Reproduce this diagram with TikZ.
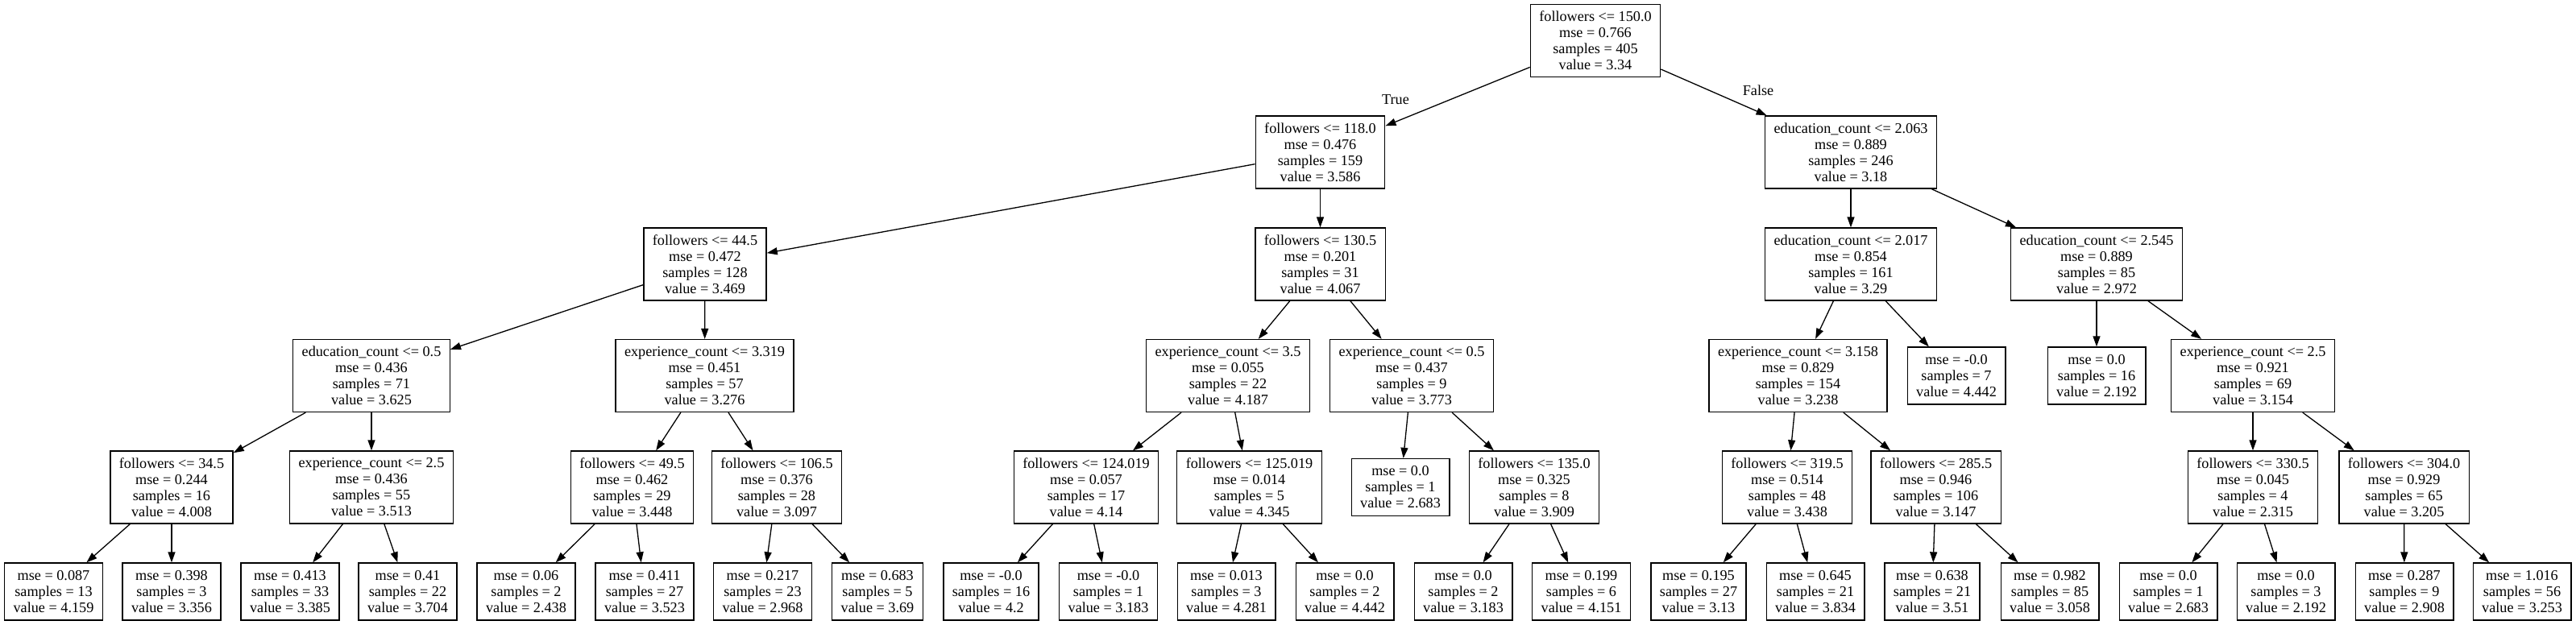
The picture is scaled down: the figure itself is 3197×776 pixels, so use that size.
\documentclass[tikz,border=0pt]{standalone}
\usepackage{fontspec}
\setmainfont{Liberation Serif}
\usetikzlibrary{arrows.meta}

\begin{document}
\begin{tikzpicture}
    [
    x=1pt, y=-1pt,
    every node/.style={font=\fontsize{18.2}{20}\selectfont},
    split/.style={rectangle,draw,line width=1.3pt,align=center,inner xsep=11pt,inner ysep=0pt,minimum height=90pt},
    leaf/.style={split,minimum height=71pt}
    ]
    \useasboundingbox (0,0) rectangle (3197,776);
    % rank 0 and 1
    \node[split] (n0) at (1980,50.5) {followers <= 150.0\\mse = 0.766\\samples = 405\\value = 3.34};
    \node[split] (n1) at (1638.5,189) {followers <= 118.0\\mse = 0.476\\samples = 159\\value = 3.586};
    \node[split] (n30) at (2297,189) {education\_count <= 2.063\\mse = 0.889\\samples = 246\\value = 3.18};
    \node (true) at (1732,124) {True};
    \node (false) at (2182,112) {False};
    % rank 2
    \node[split] (n2) at (875,328) {followers <= 44.5\\mse = 0.472\\samples = 128\\value = 3.469};
    \node[split] (n17) at (1638.5,328) {followers <= 130.5\\mse = 0.201\\samples = 31\\value = 4.067};
    \node[split] (n31) at (2297,328) {education\_count <= 2.017\\mse = 0.854\\samples = 161\\value = 3.29};
    \node[split] (n40) at (2602,328) {education\_count <= 2.545\\mse = 0.889\\samples = 85\\value = 2.972};
    % rank 3
    \node[split] (n3) at (461,466.5) {education\_count <= 0.5\\mse = 0.436\\samples = 71\\value = 3.625};
    \node[split] (n10) at (874.5,466.5) {experience\_count <= 3.319\\mse = 0.451\\samples = 57\\value = 3.276};
    \node[split] (n18) at (1524,466.5) {experience\_count <= 3.5\\mse = 0.055\\samples = 22\\value = 4.187};
    \node[split] (n25) at (1752,466.5) {experience\_count <= 0.5\\mse = 0.437\\samples = 9\\value = 3.773};
    \node[split] (n32) at (2231.5,466.5) {experience\_count <= 3.158\\mse = 0.829\\samples = 154\\value = 3.238};
    \node[leaf] (n39) at (2428,466.5) {mse = -0.0\\samples = 7\\value = 4.442};
    \node[leaf] (n41) at (2602,466.5) {mse = 0.0\\samples = 16\\value = 2.192};
    \node[split] (n42) at (2796,466.5) {experience\_count <= 2.5\\mse = 0.921\\samples = 69\\value = 3.154};
    % rank 4
    \node[split] (n4) at (213,605) {followers <= 34.5\\mse = 0.244\\samples = 16\\value = 4.008};
    \node[split] (n7) at (461,605) {experience\_count <= 2.5\\mse = 0.436\\samples = 55\\value = 3.513};
    \node[split] (n11) at (784.5,605) {followers <= 49.5\\mse = 0.462\\samples = 29\\value = 3.448};
    \node[split] (n14) at (964,605) {followers <= 106.5\\mse = 0.376\\samples = 28\\value = 3.097};
    \node[split] (n19) at (1348,605) {followers <= 124.019\\mse = 0.057\\samples = 17\\value = 4.14};
    \node[split] (n22) at (1550.5,605) {followers <= 125.019\\mse = 0.014\\samples = 5\\value = 4.345};
    \node[leaf] (n26) at (1738,605) {mse = 0.0\\samples = 1\\value = 2.683};
    \node[split] (n27) at (1904,605) {followers <= 135.0\\mse = 0.325\\samples = 8\\value = 3.909};
    \node[split] (n33) at (2218,605) {followers <= 319.5\\mse = 0.514\\samples = 48\\value = 3.438};
    \node[split] (n36) at (2402.5,605) {followers <= 285.5\\mse = 0.946\\samples = 106\\value = 3.147};
    \node[split] (n43) at (2796,605) {followers <= 330.5\\mse = 0.045\\samples = 4\\value = 2.315};
    \node[split] (n46) at (2983.5,605) {followers <= 304.0\\mse = 0.929\\samples = 65\\value = 3.205};
    % rank 5
    \node[leaf] (n5) at (66.5,734.5) {mse = 0.087\\samples = 13\\value = 4.159};
    \node[leaf] (n6) at (213,734.5) {mse = 0.398\\samples = 3\\value = 3.356};
    \node[leaf] (n8) at (360,734.5) {mse = 0.413\\samples = 33\\value = 3.385};
    \node[leaf] (n9) at (506,734.5) {mse = 0.41\\samples = 22\\value = 3.704};
    \node[leaf] (n12) at (653,734.5) {mse = 0.06\\samples = 2\\value = 2.438};
    \node[leaf] (n13) at (800,734.5) {mse = 0.411\\samples = 27\\value = 3.523};
    \node[leaf] (n15) at (946.5,734.5) {mse = 0.217\\samples = 23\\value = 2.968};
    \node[leaf] (n16) at (1089,734.5) {mse = 0.683\\samples = 5\\value = 3.69};
    \node[leaf] (n20) at (1230,734.5) {mse = -0.0\\samples = 16\\value = 4.2};
    \node[leaf] (n21) at (1375.5,734.5) {mse = -0.0\\samples = 1\\value = 3.183};
    \node[leaf] (n23) at (1522,734.5) {mse = 0.013\\samples = 3\\value = 4.281};
    \node[leaf] (n24) at (1669,734.5) {mse = 0.0\\samples = 2\\value = 4.442};
    \node[leaf] (n28) at (1816,734.5) {mse = 0.0\\samples = 2\\value = 3.183};
    \node[leaf] (n29) at (1962.5,734.5) {mse = 0.199\\samples = 6\\value = 4.151};
    \node[leaf] (n34) at (2108,734.5) {mse = 0.195\\samples = 27\\value = 3.13};
    \node[leaf] (n35) at (2253,734.5) {mse = 0.645\\samples = 21\\value = 3.834};
    \node[leaf] (n37) at (2398,734.5) {mse = 0.638\\samples = 21\\value = 3.51};
    \node[leaf] (n38) at (2544,734.5) {mse = 0.982\\samples = 85\\value = 3.058};
    \node[leaf] (n44) at (2691,734.5) {mse = 0.0\\samples = 1\\value = 2.683};
    \node[leaf] (n45) at (2837,734.5) {mse = 0.0\\samples = 3\\value = 2.192};
    \node[leaf] (n47) at (2984,734.5) {mse = 0.287\\samples = 9\\value = 2.908};
    \node[leaf] (n48) at (3130,734.5) {mse = 1.016\\samples = 56\\value = 3.253};
    \path[-{Triangle[length=13pt,width=9pt]},line width=1.3pt]
      (n0) edge (n1)
           edge (n30)
      (n1) edge (n2)
           edge (n17)
      (n30) edge (n31)
            edge (n40)
      (n2) edge (n3)
           edge (n10)
      (n17) edge (n18)
            edge (n25)
      (n31) edge (n32)
            edge (n39)
      (n40) edge (n41)
            edge (n42)
      (n3) edge (n4)
           edge (n7)
      (n10) edge (n11)
            edge (n14)
      (n18) edge (n19)
            edge (n22)
      (n25) edge (n26)
            edge (n27)
      (n32) edge (n33)
            edge (n36)
      (n42) edge (n43)
            edge (n46)
      (n4) edge (n5)
           edge (n6)
      (n7) edge (n8)
           edge (n9)
      (n11) edge (n12)
            edge (n13)
      (n14) edge (n15)
            edge (n16)
      (n19) edge (n20)
            edge (n21)
      (n22) edge (n23)
            edge (n24)
      (n27) edge (n28)
            edge (n29)
      (n33) edge (n34)
            edge (n35)
      (n36) edge (n37)
            edge (n38)
      (n43) edge (n44)
            edge (n45)
      (n46) edge (n47)
            edge (n48)
    ;
\end{tikzpicture}
\end{document}
